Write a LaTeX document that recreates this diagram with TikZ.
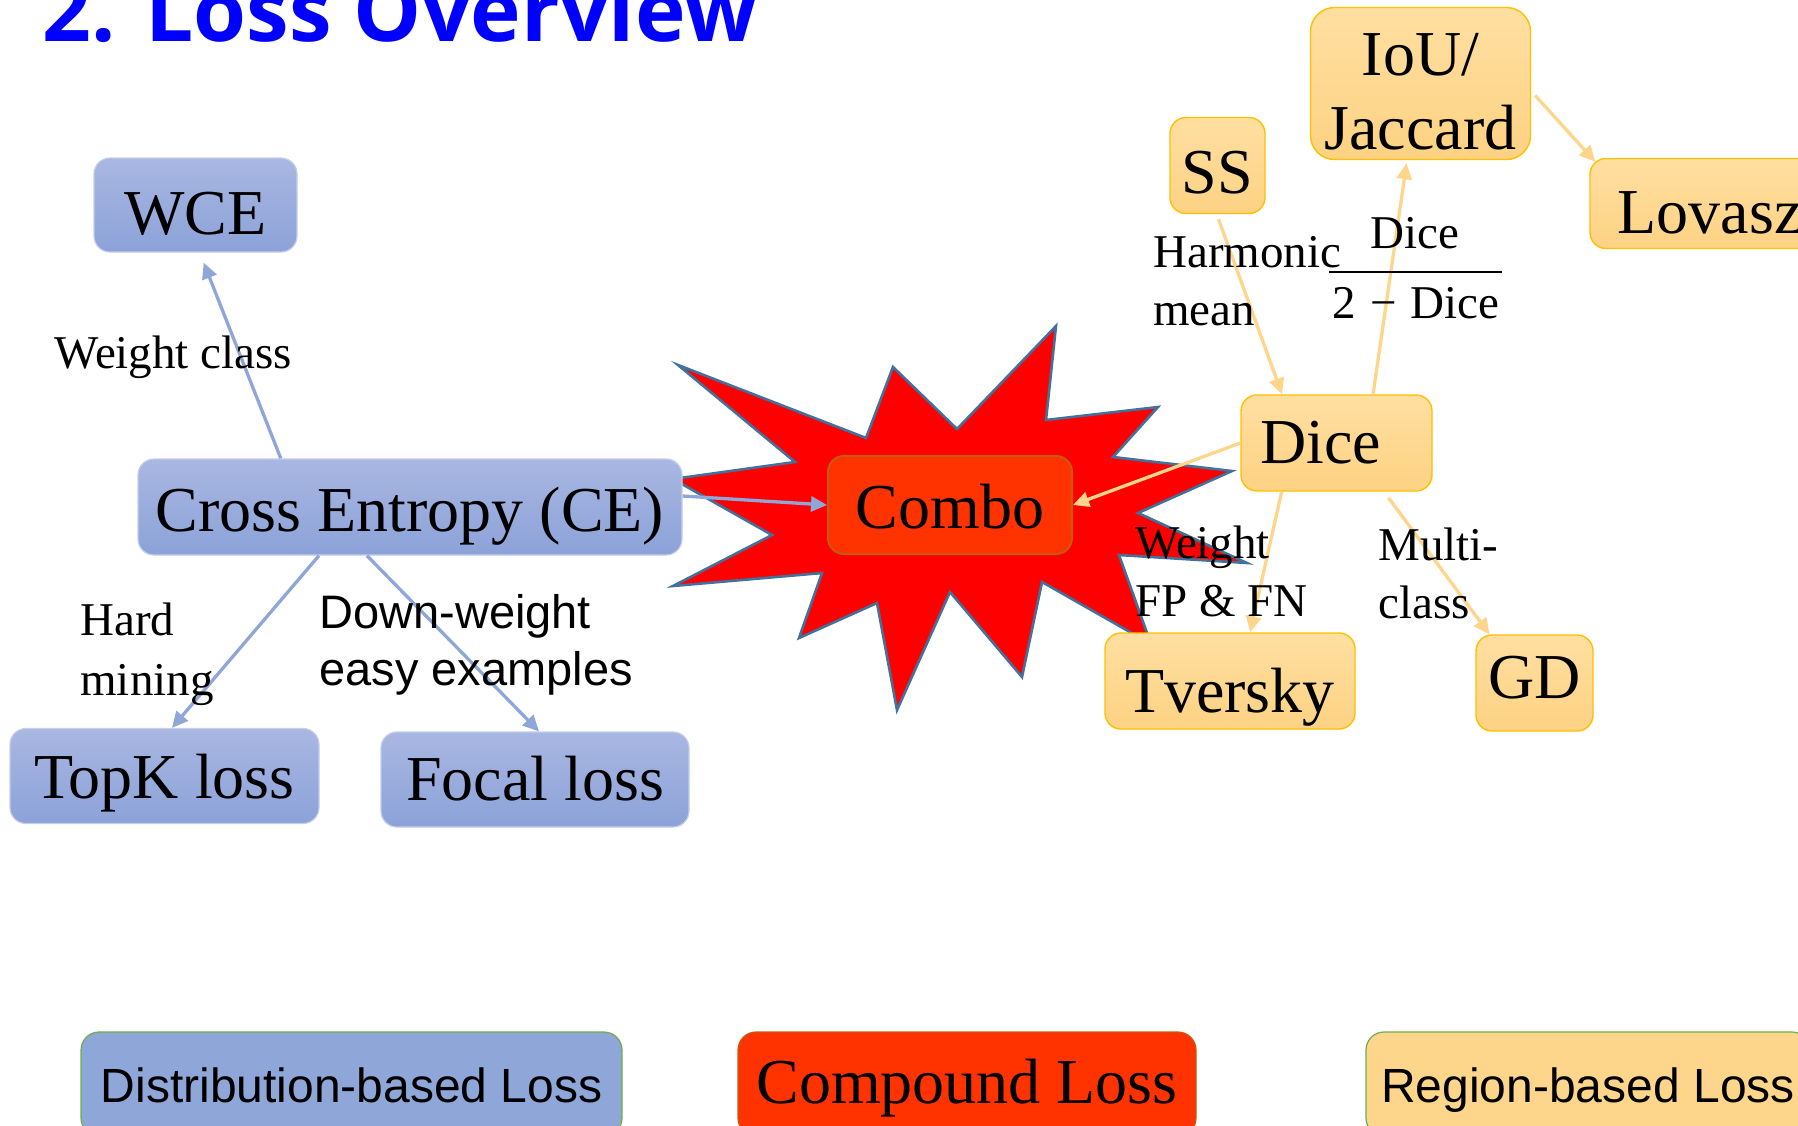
\documentclass[tikz,border=0pt]{standalone}
\usepackage{fontspec}
\setmainfont{Liberation Serif}
\newfontfamily\sansarial{Liberation Sans}
\newfontfamily\headfont{Open Sans}
\usetikzlibrary{arrows.meta,calc}

\definecolor{titleBlue}{HTML}{0000FF}
\definecolor{distTop}{HTML}{A9B7E2}
\definecolor{distBot}{HTML}{8CA2D8}
\definecolor{distLine}{HTML}{C3CDEC}
\definecolor{distFlat}{HTML}{8FA6D8}
\definecolor{regTop}{HTML}{FFDFA1}
\definecolor{regBot}{HTML}{FDD283}
\definecolor{regEdge}{HTML}{FFC000}
\definecolor{regFlat}{HTML}{FED68B}
\definecolor{compFill}{HTML}{FF3300}
\definecolor{compEdge}{HTML}{C55A11}
\definecolor{starFill}{HTML}{FF0000}
\definecolor{starEdge}{HTML}{41719C}
\definecolor{blueArrow}{HTML}{8FA6D8}
\definecolor{orangeArrow}{HTML}{FFD58C}
\definecolor{legendEdge}{HTML}{70AD47}

\newcommand{\linepair}[2]{\begin{tabular}[t]{@{}l@{}}#1\\#2\end{tabular}}

\tikzset{
  box/.style={rounded corners=8pt, inner sep=0pt,
    font=\fontsize{32}{37}\selectfont, text height=26pt, text depth=2pt},
  distbox/.style={box, top color=distTop, bottom color=distBot,
    draw=distLine, line width=0.6pt},
  regbox/.style={box, top color=regTop, bottom color=regBot,
    draw=regEdge, line width=0.7pt},
  compbox/.style={box, fill=compFill, draw=compEdge, line width=1pt},
  bluearrow/.style={draw=blueArrow, line width=1.65pt,
    -{Triangle[length=8pt,width=7.5pt]}},
  orangearrow/.style={draw=orangeArrow, line width=1.65pt,
    -{Triangle[length=8pt,width=7.5pt]}},
  lbl/.style={inner sep=0pt, font=\fontsize{23.5}{29}\selectfont,
    anchor=base west},
  sanslbl/.style={lbl, font=\sansarial\fontsize{23.5}{28.5}\selectfont},
  legendbox/.style={rounded corners=9pt, inner sep=0pt,
    minimum height=52pt, line width=0.6pt},
}

\begin{document}
\begin{tikzpicture}[x=0.5pt,y=-0.5pt]
\useasboundingbox (0,0) rectangle (1798,1125);
\clip (0,0) rectangle (1798,1125);

% heading
\node[anchor=base west, inner sep=0pt, text=titleBlue,
  font=\headfont\bfseries\fontsize{42.8}{50}\selectfont] (title) at (42,41)
  {2. Loss Overview};

% explosion behind the compound loss
\draw[fill=starFill, draw=starEdge, line width=1.3pt, line join=miter]
  (678,365) -- (866,438) -- (893,367) -- (957,429) -- (1056,326)
  -- (1046,420) -- (1158,407) -- (1113,457) -- (1232,471) -- (1138,513)
  -- (1247,563) -- (1119,555) -- (1151,644) -- (1042,582) -- (1022,677)
  -- (950,592) -- (897,710) -- (877,603) -- (799,638) -- (822,573)
  -- (673,586) -- (772,535) -- (673,479) -- (795,462) -- cycle;

% distribution-based losses
\node[distbox, minimum width=101.5pt, minimum height=47pt,
  text height=31pt] (wce) at (195.5,205) {WCE};
\node[distbox, minimum width=272pt, minimum height=48pt] (ce) at (410,507)
  {Cross Entropy (CE)};
\node[distbox, minimum width=154.5pt, minimum height=47.5pt,
  text height=24pt] (topk) at (164.5,776) {TopK loss};
\node[distbox, minimum width=154pt, minimum height=47.5pt,
  text height=22.5pt] (focal) at (535,779.5) {Focal loss};

% compound loss
\node[compbox, minimum width=122pt, minimum height=49pt,
  text height=25pt] (combo) at (950,505) {Combo};

% region-based losses
\node[regbox, minimum width=47.5pt, minimum height=48pt,
  text height=29.5pt] (ss) at (1217.5,165.5) {SS};
\node[regbox, rounded corners=12pt, minimum width=110pt, minimum height=76pt,
  text height=28pt, text depth=36pt] (iou) at (1420.5,83.5)
  {\begin{tabular}[t]{@{}c@{}}IoU/\\Jaccard\end{tabular}};
\node[regbox, minimum width=120pt, minimum height=45pt,
  text height=31.5pt] (lovasz) at (1710,203.5) {Lovasz};
\node[regbox, minimum width=95.5pt, minimum height=48pt,
  text height=22pt] (dice) at (1336.5,443) {Dice\hspace*{16pt}};
\node[regbox, minimum width=125pt, minimum height=48pt,
  text height=33pt] (tversky) at (1230,681) {Tversky};
\node[regbox, minimum width=58.5pt, minimum height=48pt,
  text height=17pt] (gd) at (1534.5,683) {GD};

% connectors
\draw[bluearrow] ($(ce.north west)!0.263!(ce.north east)$)
  -- ($(wce.south west)!0.54!(wce.south east)+(0,10)$);
\draw[bluearrow] ($(ce.south west)!0.333!(ce.south east)$)
  -- ($(topk.north west)!0.524!(topk.north east)$);
\draw[bluearrow] ($(ce.south west)!0.421!(ce.south east)$)
  -- ($(focal.north west)!0.513!(focal.north east)$);
\draw[bluearrow] ($(ce.east)+(0,-11)$) -- (combo.west);
\draw[orangearrow] (dice.west) -- (combo.east);
\draw[orangearrow] ($(ss.south)+(1,5)$)
  -- ($(dice.north west)!0.217!(dice.north east)$);
\draw[orangearrow] ($(dice.north west)!0.69!(dice.north east)$)
  -- ($(iou.south west)!0.437!(iou.south east)+(0,3)$);
\draw[orangearrow] ($(iou.east)+(4,12)$)
  -- ($(lovasz.north west)+(6,4)$);
\draw[orangearrow] ($(dice.south west)!0.215!(dice.south east)$)
  -- ($(tversky.north west)!0.58!(tversky.north east)$);
\draw[orangearrow] ($(dice.south west)!0.77!(dice.south east)+(0,6)$)
  -- ($(gd.north west)!0.12!(gd.north east)$);

% connector labels
\node[lbl] (lwclass) at (54,368) {Weight class};
\node[lbl, font=\fontsize{23.5}{30}\selectfont] (lhard) at (80,635)
  {\linepair{Hard}{mining}};
\node[sanslbl] (ldown) at (319,628) {\linepair{Down-weight}{easy examples}};
\node[lbl] (lharm) at (1153,267) {\linepair{Harmonic}{mean}};
\node[lbl, anchor=base] (fracnum) at (1415,248) {Dice};
\node[lbl, anchor=base] (fracden) at (1416,318)
  {2\hspace{0.3em}−\hspace{0.3em}Dice};
\draw[line width=1.4pt] ($(fracden.base west)+(-3,-46)$)
  -- ($(fracden.base east)+(2,-46)$);
\node[lbl] (lfpfn) at (1135,558) {\linepair{Weight}{FP \& FN}};
\node[lbl] (lmulti) at (1378,560) {\linepair{Multi-}{class}};

% legend
\node[legendbox, fill=distFlat, draw=legendEdge, minimum width=270.5pt,
  font=\sansarial\fontsize{24}{28}\selectfont, text height=20pt,
  text depth=2pt] (legdist) at (351.5,1084) {Distribution-based Loss};
\node[legendbox, fill=compFill, draw=compEdge, minimum width=229pt,
  font=\fontsize{32}{37}\selectfont, text height=23pt,
  text depth=4pt] (legcomp) at (967,1084) {Compound Loss};
\node[legendbox, fill=regFlat, draw=legendEdge, minimum width=222pt,
  font=\sansarial\fontsize{24}{28}\selectfont, text height=20pt,
  text depth=2pt] (legreg) at (1588,1084) {Region-based Loss};
\end{tikzpicture}
\end{document}
